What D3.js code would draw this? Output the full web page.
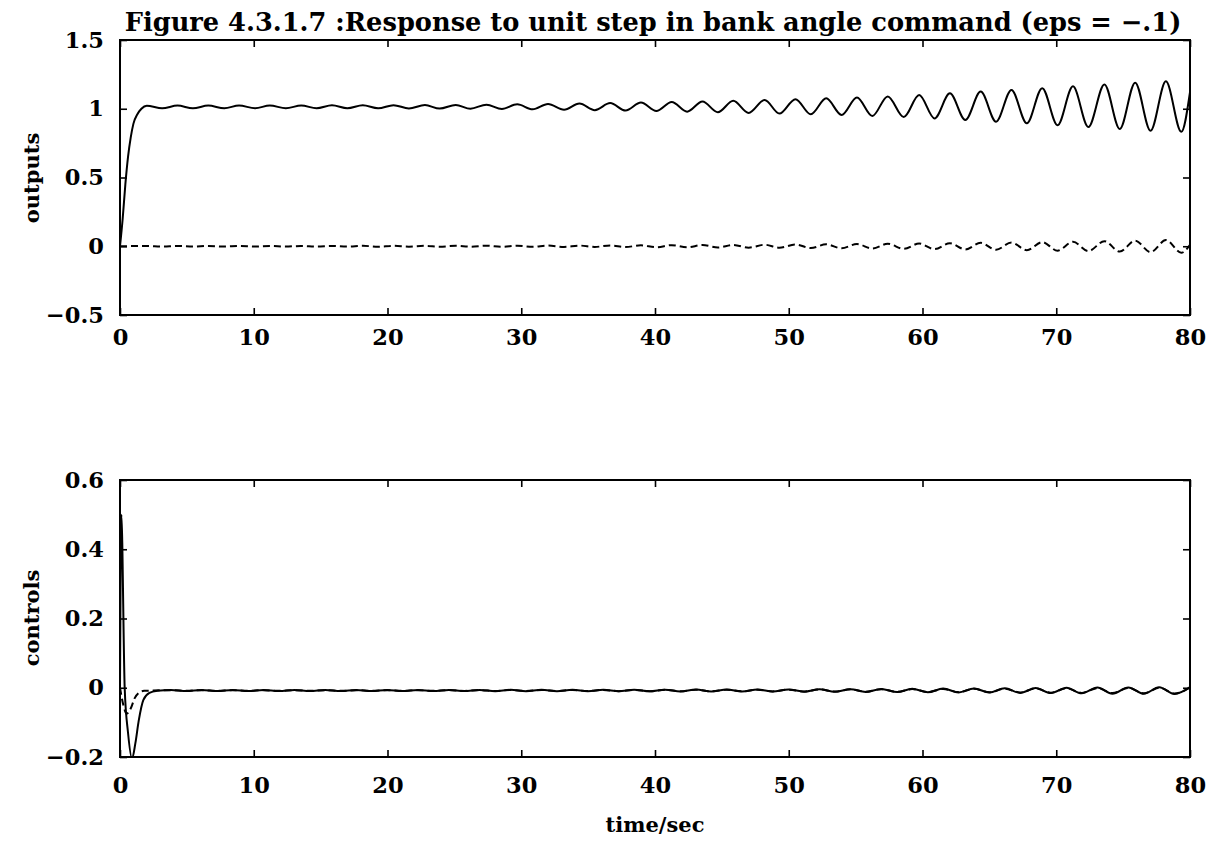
<!DOCTYPE html>
<html>
<head>
<meta charset="utf-8">
<script src="https://cdn.jsdelivr.net/npm/d3@7"></script>
<style>
  html, body { margin: 0; padding: 0; background: #fff; }
  svg text { font-family: "DejaVu Serif", "Liberation Serif", serif; font-weight: bold; fill: #000; }
</style>
</head>
<body>
<svg id="chart" width="1219" height="855"></svg>
<script>
// ---------------- data ----------------
const titleText = "Figure 4.3.1.7 :Response to unit step in bank angle command (eps = \u2212.1)";
const xLabel = "time/sec";
const topYLabel = "outputs";
const botYLabel = "controls";

const xTicks = [0, 10, 20, 30, 40, 50, 60, 70, 80];
const topYTicks = [-0.5, 0, 0.5, 1, 1.5];
const topYTickLabels = ["\u22120.5", "0", "0.5", "1", "1.5"];
const botYTicks = [-0.2, 0, 0.2, 0.4, 0.6];
const botYTickLabels = ["\u22120.2", "0", "0.2", "0.4", "0.6"];

// outputs, solid curve: [time, value]
const outputsSolid = [
  [0,0],[0.2,0.2],[0.4,0.45],[0.6,0.65],[0.8,0.79],[1.0,0.89],[1.3,0.96],[1.6,1.0],[2.0,1.022],
  [3.15,1.003],[4.3,1.023],[5.45,1.003],[6.6,1.023],[7.8,1.003],[8.9,1.024],[10.1,1.003],
  [11.2,1.024],[12.4,1.003],[13.55,1.024],[14.7,1.003],[15.85,1.025],[17.0,1.003],[18.15,1.025],
  [19.3,1.003],[20.45,1.026],[21.6,1.002],[22.8,1.027],[23.9,1.001],[25.1,1.028],[26.2,1.0],
  [27.4,1.03],[28.55,0.998],[29.7,1.032],[30.85,0.996],[32.0,1.035],[33.2,0.993],[34.35,1.038],
  [35.5,0.99],[36.65,1.041],[37.8,0.987],[38.95,1.045],[40.1,0.983],[41.25,1.049],[42.4,0.979],
  [43.55,1.053],[44.7,0.975],[45.85,1.058],[47.0,0.97],[48.2,1.064],[49.3,0.965],[50.5,1.07],
  [51.65,0.96],[52.8,1.076],[53.95,0.955],[55.1,1.082],[56.25,0.948],[57.4,1.09],[58.6,0.94],
  [59.75,1.1],[60.9,0.93],[62.05,1.112],[63.2,0.918],[64.35,1.125],[65.5,0.906],[66.65,1.137],
  [67.8,0.894],[68.95,1.15],[70.1,0.88],[71.25,1.163],[72.4,0.867],[73.6,1.177],[74.75,0.853],
  [75.9,1.19],[77.05,0.84],[78.2,1.2],[79.35,0.832],[80.0,1.12]
];

// outputs, dashed curve
const outputsDashed = [
  [0,0],[2.0,0.002],[3.15,-0.002],[4.3,0.002],[5.45,-0.002],[6.6,0.002],[7.8,-0.002],[8.9,0.002],
  [10.1,-0.002],[11.2,0.002],[12.4,-0.002],[13.55,0.002],[14.7,-0.002],[15.85,0.002],[17.0,-0.002],
  [18.15,0.003],[19.3,-0.003],[20.45,0.003],[21.6,-0.003],[22.8,0.003],[23.9,-0.003],[25.1,0.003],
  [26.2,-0.003],[27.4,0.004],[28.55,-0.004],[29.7,0.004],[30.85,-0.004],[32.0,0.005],[33.2,-0.005],
  [34.35,0.005],[35.5,-0.005],[36.65,0.006],[37.8,-0.006],[38.95,0.007],[40.1,-0.007],[41.25,0.008],
  [42.4,-0.008],[43.55,0.009],[44.7,-0.009],[45.85,0.01],[47.0,-0.01],[48.2,0.011],[49.3,-0.011],
  [50.5,0.012],[51.65,-0.013],[52.8,0.014],[53.95,-0.015],[55.1,0.016],[56.25,-0.017],[57.4,0.018],
  [58.6,-0.019],[59.75,0.02],[60.9,-0.021],[62.05,0.022],[63.2,-0.023],[64.35,0.025],[65.5,-0.026],
  [66.65,0.027],[67.8,-0.029],[68.95,0.03],[70.1,-0.032],[71.25,0.033],[72.4,-0.035],[73.6,0.037],
  [74.75,-0.039],[75.9,0.041],[77.05,-0.043],[78.2,0.045],[79.35,-0.047],[80.0,0.01]
];

// controls, solid curve
const controlsSolid = [
  [0,0],[0.1,0.5],[0.35,0.0],[0.6,-0.13],[0.9,-0.205],[1.15,-0.16],[1.4,-0.095],[1.75,-0.035],
  [2.2,-0.015],[2.8,-0.009],
  [3.81,-0.0065],[4.97,-0.0095],[6.12,-0.0065],[7.27,-0.0095],[8.43,-0.0065],[9.58,-0.0095],
  [10.73,-0.0065],[11.89,-0.0095],[13.04,-0.0065],[14.2,-0.0095],[15.35,-0.0065],[16.5,-0.0095],
  [17.66,-0.0065],[18.81,-0.0095],[19.97,-0.0065],[21.12,-0.0095],[22.28,-0.0065],[23.43,-0.0095],
  [24.59,-0.0063],[25.74,-0.0097],[26.9,-0.0062],[28.05,-0.0098],[29.21,-0.006],[30.36,-0.01],
  [31.52,-0.0059],[32.67,-0.0101],[33.83,-0.0058],[34.98,-0.0102],[36.14,-0.0057],[37.29,-0.0103],
  [38.44,-0.0056],[39.6,-0.0104],[40.75,-0.0055],[41.9,-0.0105],[43.06,-0.0054],[44.2,-0.0106],
  [45.37,-0.0052],[46.5,-0.0108],[47.68,-0.0051],[48.8,-0.0109],[49.99,-0.005],[51.15,-0.0112],
  [52.3,-0.0045],[53.45,-0.0115],[54.61,-0.004],[55.75,-0.012],[56.92,-0.0035],[58.1,-0.0125],
  [59.23,-0.003],[60.4,-0.013],[61.54,-0.0025],[62.7,-0.0135],[63.85,-0.002],[65.0,-0.014],
  [66.15,-0.0015],[67.3,-0.0148],[68.46,-0.001],[69.6,-0.0155],[70.77,-0.0002],[71.9,-0.0162],
  [73.08,0.0005],[74.2,-0.017],[75.39,0.001],[76.55,-0.0175],[77.7,0.0015],[78.85,-0.018],[80.0,0.002]
];

// controls, dashed curve
const controlsDashed = [
  [0,0],[0.25,-0.05],[0.5,-0.075],[0.8,-0.06],[1.1,-0.03],[1.4,-0.015],[1.8,-0.009],[2.5,-0.008],
  [3.81,-0.007],[4.97,-0.009],[6.12,-0.007],[7.27,-0.009],[8.43,-0.007],[9.58,-0.009],
  [10.73,-0.007],[11.89,-0.009],[13.04,-0.007],[14.2,-0.009],[15.35,-0.007],[16.5,-0.009],
  [17.66,-0.007],[18.81,-0.009],[19.97,-0.007],[21.12,-0.009],[22.28,-0.007],[23.43,-0.009],
  [24.59,-0.0068],[25.74,-0.0092],[26.9,-0.0067],[28.05,-0.0093],[29.21,-0.0066],[30.36,-0.0094],
  [31.52,-0.0065],[32.67,-0.0095],[33.83,-0.0064],[34.98,-0.0096],[36.14,-0.0062],[37.29,-0.0098],
  [38.44,-0.006],[39.6,-0.01],[40.75,-0.0058],[41.9,-0.0102],[43.06,-0.0057],[44.2,-0.0103],
  [45.37,-0.0056],[46.5,-0.0104],[47.68,-0.0055],[48.8,-0.0105],[49.99,-0.0054],[51.15,-0.0107],
  [52.3,-0.005],[53.45,-0.011],[54.61,-0.0046],[55.75,-0.0114],[56.92,-0.0042],[58.1,-0.0118],
  [59.23,-0.0038],[60.4,-0.0122],[61.54,-0.0034],[62.7,-0.0126],[63.85,-0.003],[65.0,-0.013],
  [66.15,-0.0025],[67.3,-0.0136],[68.46,-0.002],[69.6,-0.0142],[70.77,-0.0015],[71.9,-0.0148],
  [73.08,-0.001],[74.2,-0.0154],[75.39,-0.0005],[76.55,-0.016],[77.7,0.0],[78.85,-0.0165],[80.0,0.0005]
];

// ---------------- drawing ----------------
const svg = d3.select("#chart");
const X0 = 120, X1 = 1190;
const fontSize = 21;
const tickFontSize = 22.5;

const x = d3.scaleLinear().domain([0, 80]).range([X0, X1]);

function panel(cfg) {
  const y = d3.scaleLinear().domain(cfg.yDomain).range([cfg.bottom, cfg.top]);
  const g = svg.append("g");
  const clipId = "clip" + cfg.id;
  svg.append("defs").append("clipPath").attr("id", clipId)
    .append("rect").attr("x", X0).attr("y", cfg.top).attr("width", X1 - X0).attr("height", cfg.bottom - cfg.top);

  const line = d3.line().x(d => x(d[0])).y(d => y(d[1])).curve(d3.curveMonotoneX);

  const lines = g.append("g").attr("clip-path", `url(#${clipId})`);
  lines.append("path").datum(cfg.solid).attr("d", line)
    .attr("fill", "none").attr("stroke", "#000").attr("stroke-width", 2).attr("stroke-linejoin", "round");
  lines.append("path").datum(cfg.dashed).attr("d", line)
    .attr("fill", "none").attr("stroke", "#000").attr("stroke-width", 2).attr("stroke-dasharray", "7,4");

  // axes with inward ticks
  const tickFmtY = d => cfg.yLabels[cfg.yTicks.indexOf(d)];
  const bottomAx = g.append("g").attr("transform", `translate(0,${cfg.bottom})`)
    .call(d3.axisBottom(x).tickValues(xTicks).tickSize(-7).tickPadding(cfg.xPad).tickFormat(d3.format("d")));
  const topAx = g.append("g").attr("transform", `translate(0,${cfg.top})`)
    .call(d3.axisTop(x).tickValues(xTicks).tickSize(-7).tickFormat(""));
  const leftAx = g.append("g").attr("transform", `translate(${X0},0)`)
    .call(d3.axisLeft(y).tickValues(cfg.yTicks).tickSize(-7).tickPadding(16).tickFormat(tickFmtY));
  const rightAx = g.append("g").attr("transform", `translate(${X1},0)`)
    .call(d3.axisRight(y).tickValues(cfg.yTicks).tickSize(-7).tickFormat(""));
  [bottomAx, topAx, leftAx, rightAx].forEach(a => {
    a.select(".domain").remove();
    a.selectAll(".tick line").attr("stroke", "#000").attr("stroke-width", 1.6);
    a.selectAll("text").attr("font-size", tickFontSize).attr("font-family", null).style("font-weight", "bold").attr("fill", "#000");
  });

  g.append("rect").attr("x", X0).attr("y", cfg.top).attr("width", X1 - X0).attr("height", cfg.bottom - cfg.top)
    .attr("fill", "none").attr("stroke", "#000").attr("stroke-width", 2);

  svg.append("text").attr("transform", `translate(31,${cfg.labelY}) rotate(-90)`)
    .attr("text-anchor", "middle").attr("dominant-baseline", "central")
    .attr("font-size", fontSize).text(cfg.yTitle);
}

panel({ id: "top", top: 40, bottom: 315, yDomain: [-0.5, 1.5], yTicks: topYTicks, yLabels: topYTickLabels,
        solid: outputsSolid, dashed: outputsDashed, xPad: 14, yTitle: topYLabel, labelY: 178 });
panel({ id: "bot", top: 480, bottom: 757, yDomain: [-0.2, 0.6], yTicks: botYTicks, yLabels: botYTickLabels,
        solid: controlsSolid, dashed: controlsDashed, xPad: 20, yTitle: botYLabel, labelY: 618 });

const title = svg.append("text").attr("x", 653).attr("y", 31).attr("text-anchor", "middle")
  .attr("font-size", fontSize).text(titleText);
// fit title to its measured width in the reference
const tw = title.node().getComputedTextLength();
title.attr("font-size", fontSize * 1057 / tw);

svg.append("text").attr("x", 655).attr("y", 832).attr("text-anchor", "middle")
  .attr("font-size", fontSize).text(xLabel);
</script>
</body>
</html>
